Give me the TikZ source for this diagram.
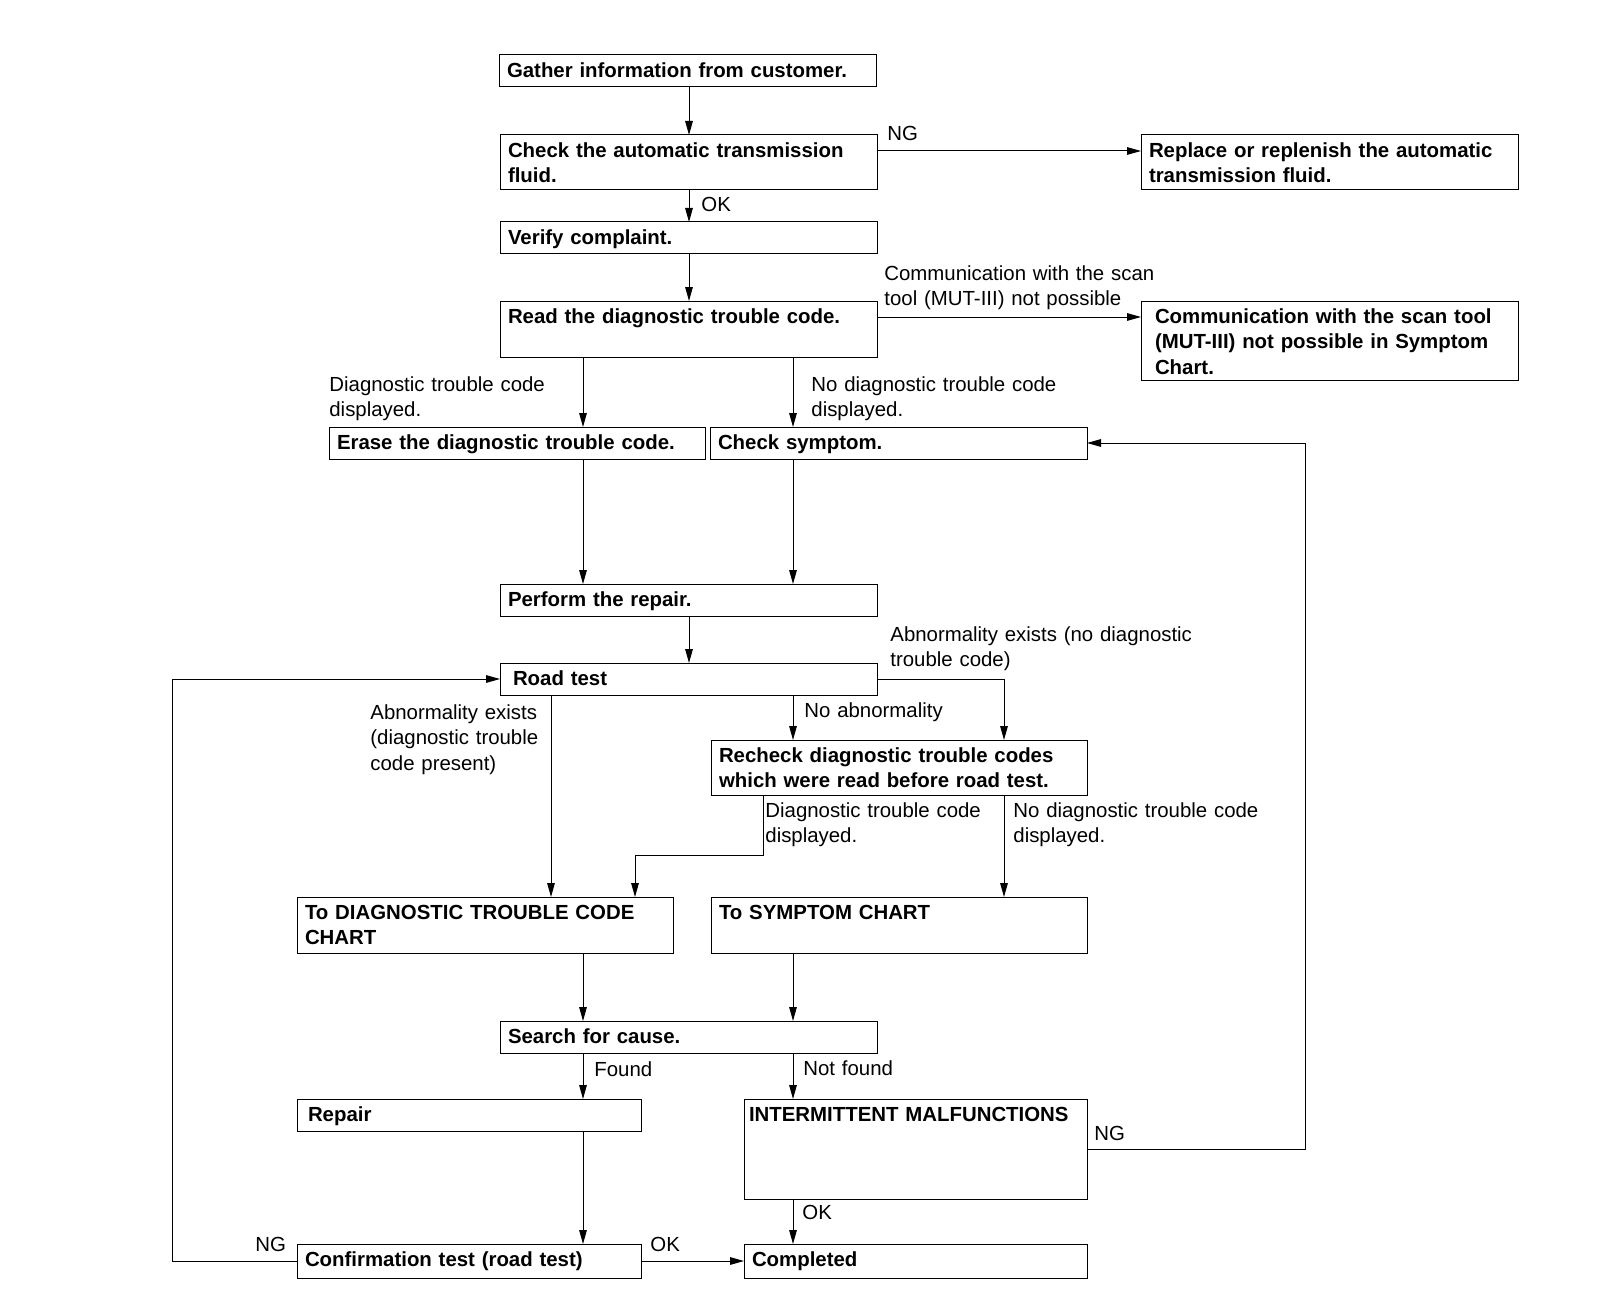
\documentclass[tikz,border=0pt]{standalone}
\usepackage{fontspec}
\setmainfont{Liberation Sans}
\usetikzlibrary{arrows.meta}

\begin{document}
\begin{tikzpicture}[x=0.5pt, y=-0.5pt,
  box/.style={draw, line width=0.5pt, anchor=north west, align=left, inner xsep=4pt, inner ysep=0pt, outer sep=0pt,
    text width=#1, text height=11.2pt, font=\fontsize{10.2}{12.75}\selectfont\bfseries},
  one/.style={text depth=4.8pt},
  two/.style={text depth=16.3pt},
  lbl/.style={anchor=base west, align=left, inner sep=0pt, text width=180pt, font=\fontsize{10.2}{12.75}\selectfont},
  arr/.style={line width=0.5pt, -{Triangle[length=7pt,width=3.8pt]}},
  ln/.style={line width=0.5pt}]
\useasboundingbox (0,0) rectangle (1600,1316);

% boxes
\node[box=180.5pt, one] (gather) at (499,55) {Gather information from customer.};
\node[box=180.5pt, two] (atf) at (500,135) {Check the automatic transmission\\fluid.};
\node[box=180.5pt, two] (replace) at (1141,135) {Replace or replenish the automatic\\transmission fluid.};
\node[box=180.5pt, one] (verify) at (500,222) {Verify complaint.};
\node[box=180.5pt, text depth=16.8pt] (read) at (500,301) {Read the diagnostic trouble code.};
\node[box=174.5pt, inner xsep=7pt, text depth=28.3pt] (comm) at (1141,301) {Communication with the scan tool\\(MUT-III) not possible in Symptom\\Chart.};
\node[box=180pt, one] (erase) at (329,427) {Erase the diagnostic trouble code.};
\node[box=180.5pt, one] (symptom) at (710,427) {Check symptom.};
\node[box=180.5pt, one] (perform) at (500,584) {Perform the repair.};
\node[box=175.5pt, inner xsep=6.5pt, one] (road) at (500,663) {Road test};
\node[box=180pt, two] (recheck) at (711,740) {Recheck diagnostic trouble codes\\which were read before road test.};
\node[box=180pt, text depth=16.8pt] (dtcchart) at (297,897) {To DIAGNOSTIC TROUBLE CODE\\CHART};
\node[box=180pt, text depth=16.8pt] (sympchart) at (711,897) {To SYMPTOM CHART};
\node[box=180.5pt, one] (search) at (500,1021) {Search for cause.};
\node[box=161pt, inner xsep=5.5pt, one] (repair) at (297,1099) {Repair};
\node[box=166.5pt, inner xsep=2.5pt, text depth=38.8pt] (intermit) at (744,1099) {INTERMITTENT MALFUNCTIONS};
\node[box=164pt, text depth=5.8pt] (confirm) at (297,1244) {Confirmation test (road test)};
\node[box=163.5pt, text depth=5.8pt] (completed) at (744,1244) {Completed};

% columns of the connectors
\coordinate (ccol) at (689,0);
\coordinate (lcol) at (583,0);
\coordinate (rcol) at (793,0);
\coordinate (dcol) at (551,0);
\coordinate (ecol) at (1004,0);
\coordinate (mcol) at (763,0);
\coordinate (kcol) at (635,0);
\coordinate (jog) at (0,855);
\coordinate (lpcol) at (172,0);
\coordinate (rpcol) at (1305,0);

% connectors
\draw[arr] (gather.south -| ccol) -- (atf.north -| ccol);
\draw[arr] ([yshift=5.75pt]atf.east) -- ([yshift=5.75pt]replace.west);
\draw[arr] (atf.south -| ccol) -- (verify.north -| ccol);
\draw[arr] (verify.south -| ccol) -- (read.north -| ccol);
\draw[arr] ([yshift=6pt]read.east) -- ([yshift=6pt]read.east -| comm.west);
\draw[arr] (read.south -| lcol) -- (erase.north -| lcol);
\draw[arr] (read.south -| rcol) -- (symptom.north -| rcol);
\draw[arr] (erase.south -| lcol) -- (perform.north -| lcol);
\draw[arr] (symptom.south -| rcol) -- (perform.north -| rcol);
\draw[arr] (perform.south -| ccol) -- (road.north -| ccol);
\draw[arr] (road.south -| dcol) -- (dtcchart.north -| dcol);
\draw[arr] (road.south -| rcol) -- (recheck.north -| rcol);
\draw[arr] (road.east) -| (recheck.north -| ecol);
\draw[arr] (recheck.south -| mcol) |- (jog -| kcol) -- (dtcchart.north -| kcol);
\draw[arr] (recheck.south -| ecol) -- (sympchart.north -| ecol);
\draw[arr] (dtcchart.south -| lcol) -- (search.north -| lcol);
\draw[arr] (sympchart.south -| rcol) -- (search.north -| rcol);
\draw[arr] (search.south -| lcol) -- (repair.north -| lcol);
\draw[arr] (search.south -| rcol) -- (intermit.north -| rcol);
\draw[arr] (repair.south -| lcol) -- (confirm.north -| lcol);
\draw[arr] (intermit.south -| rcol) -- (completed.north -| rcol);
\draw[arr] (confirm.east) -- (completed.west);
\draw[arr] (confirm.west) -- (confirm.west -| lpcol) |- (road.west);
\draw[arr] (intermit.east) -- (intermit.east -| rpcol) |- (symptom.east);

% labels
\node[lbl] (ngatf) at (887,141) {NG};
\node[lbl] (okatf) at (701,212) {OK};
\node[lbl] (nocomm) at (884,280) {Communication with the scan\\tool (MUT-III) not possible};
\node[lbl] (dtcyes) at (329,391) {Diagnostic trouble code\\displayed.};
\node[lbl] (dtcno) at (811,391) {No diagnostic trouble code\\displayed.};
\node[lbl] (abnno) at (890,641) {Abnormality exists (no diagnostic\\trouble code)};
\node[lbl] (abnyes) at (370,719) {Abnormality exists\\(diagnostic trouble\\code present)};
\node[lbl] (noabn) at (804,717) {No abnormality};
\node[lbl] (redtcyes) at (765,817) {Diagnostic trouble code\\displayed.};
\node[lbl] (redtcno) at (1013,817) {No diagnostic trouble code\\displayed.};
\node[lbl] (found) at (594,1076) {Found};
\node[lbl] (notfound) at (803,1075) {Not found};
\node[lbl] (ngint) at (1094,1140) {NG};
\node[lbl] (okint) at (802,1219) {OK};
\node[lbl] (ngconf) at (255,1251) {NG};
\node[lbl] (okconf) at (650,1251) {OK};

\end{tikzpicture}
\end{document}
